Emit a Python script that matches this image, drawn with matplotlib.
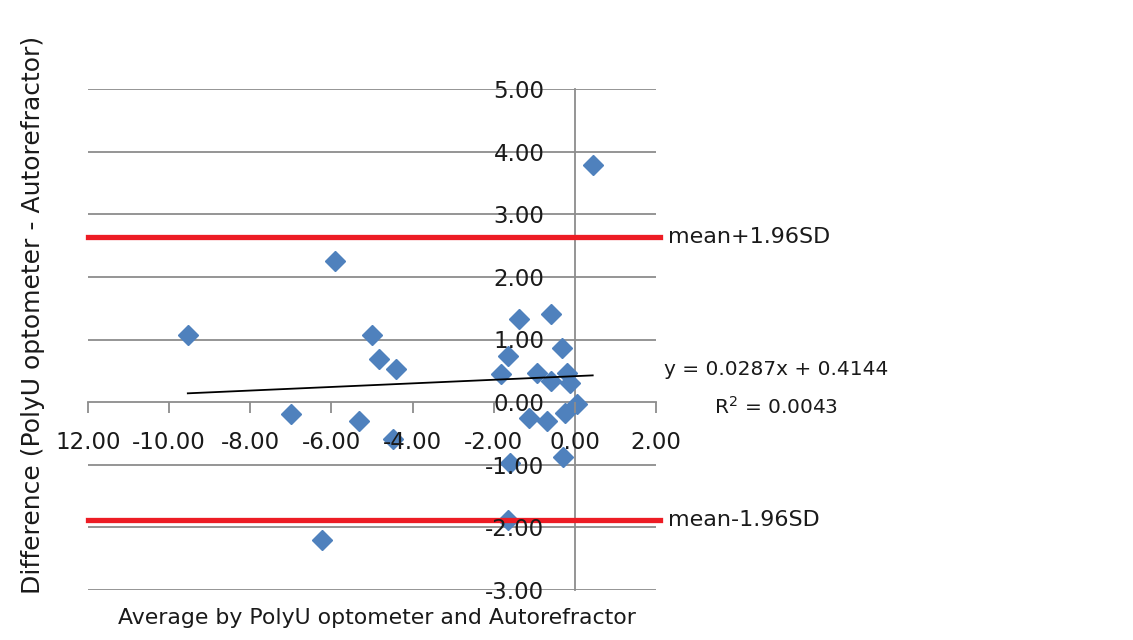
import numpy as np
import matplotlib.pyplot as plt

# Bland-Altman: PolyU optometer vs autorefractor
media = [-9.54, -7.00, -6.23, -5.91, -5.32, -5.00, -4.83, -4.48, -4.41,
         -1.82, -1.65, -1.65, -1.60, -1.38, -1.13, -0.94, -0.69, -0.60,
         -0.59, -0.32, -0.30, -0.25, -0.20, -0.12, 0.05, 0.44]
diferenca = [1.07, -0.19, -2.20, 2.26, -0.30, 1.07, 0.69, -0.59, 0.53,
             0.45, 0.74, -1.89, -0.98, 1.33, -0.26, 0.46, -0.30, 0.33,
             1.41, 0.87, -0.88, -0.18, 0.46, 0.30, -0.03, 3.78]

LIM_SUP = 2.63   # mean + 1.96SD
LIM_INF = -1.89  # mean - 1.96SD
INCLINACAO = 0.0287
INTERCEPTO = 0.4144
R2 = 0.0043

x_ticks = [-12, -10, -8, -6, -4, -2, 0, 2]
x_labels = ['12.00', '-10.00', '-8.00', '-6.00', '-4.00', '-2.00', '0.00', '2.00']
y_ticks = [-3, -2, -1, 0, 1, 2, 3, 4, 5]

AZUL = '#4F81BD'
VERMELHO = '#ED1C24'
CINZA = '#8C8C8C'
TEXTO = '#1a1a1a'

fig = plt.figure(figsize=(11.33, 6.4), dpi=100)
ax = fig.add_axes([88 / 1133, 1 - 590 / 640, (656 - 88) / 1133, (590 - 89) / 640])
ax.set_xlim(-12, 2)
ax.set_ylim(-3, 5)

# linhas de grade horizontais
for y in y_ticks:
    if y != 0:
        ax.axhline(y, color=CINZA, lw=1.3, zorder=1)

# eixos cruzando em zero
for lado in ['top', 'right']:
    ax.spines[lado].set_visible(False)
ax.spines['left'].set_position(('data', 0))
ax.spines['bottom'].set_position(('data', 0))
for lado in ['left', 'bottom']:
    ax.spines[lado].set_color(CINZA)
    ax.spines[lado].set_linewidth(1.3)
    ax.spines[lado].set_zorder(1.5)

ax.set_xticks(x_ticks)
ax.set_xticklabels(x_labels)
ax.set_yticks(y_ticks)
ax.set_yticklabels([f'{v:.2f}' for v in y_ticks])
ax.tick_params(axis='x', direction='out', length=8, width=1.3, color=CINZA,
               pad=13, labelsize=16.5, labelcolor=TEXTO)
ax.tick_params(axis='y', length=0, pad=22, labelsize=16.5, labelcolor=TEXTO)
ax.xaxis.set_zorder(3)
ax.yaxis.set_zorder(3)
ax.patch.set_visible(False)

# pontos
ax.plot(media, diferenca, 'D', color=AZUL, ms=10, mec=AZUL, zorder=2)

# linha de tendência
xs = np.array([min(media), max(media)])
ax.plot(xs, INCLINACAO * xs + INTERCEPTO, color='black', lw=1.3, zorder=2.2)

# limites de concordância
ax.plot([-12, 2.1], [LIM_SUP, LIM_SUP], color=VERMELHO, lw=3.8, clip_on=False, zorder=2.4)
ax.plot([-12, 2.1], [LIM_INF, LIM_INF], color=VERMELHO, lw=3.8, clip_on=False, zorder=2.4)

ax.text(2.3, LIM_SUP, 'mean+1.96SD', fontsize=16, color=TEXTO, va='center', ha='left')
ax.text(2.3, LIM_INF, 'mean-1.96SD', fontsize=16, color=TEXTO, va='center', ha='left')
ax.text(4.97, 0.52, f'y = {INCLINACAO}x + {INTERCEPTO}', fontsize=14.5, color=TEXTO,
        va='center', ha='center')
ax.text(4.97, -0.07, f'R$^2$ = {R2}', fontsize=14.5, color=TEXTO, va='center', ha='center')

fig.text(377 / 1133, 1 - 618 / 640, 'Average by PolyU optometer and Autorefractor',
         fontsize=15.8, color=TEXTO, ha='center', va='center')
fig.text(33 / 1133, 1 - 315 / 640, 'Difference (PolyU optometer - Autorefractor)',
         fontsize=18, color=TEXTO, ha='center', va='center', rotation=90)

fig.savefig('out.png', dpi=100)
